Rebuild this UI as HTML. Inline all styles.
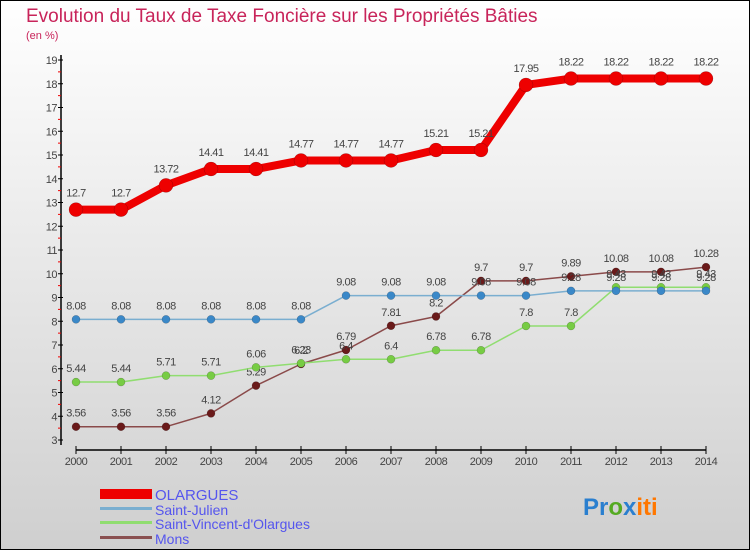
<!DOCTYPE html>
<html><head><meta charset="utf-8"><style>
html,body{margin:0;padding:0}
body{width:750px;height:550px;overflow:hidden;font-family:"Liberation Sans",sans-serif}
svg text{font-family:"Liberation Sans",sans-serif}
</style></head><body>
<svg id="chart" width="750" height="550" xmlns="http://www.w3.org/2000/svg">
<defs><linearGradient id="bg" x1="0" y1="0" x2="0" y2="1"><stop offset="0" stop-color="#ffffff"/><stop offset="1" stop-color="#cfcfcf"/></linearGradient></defs>
<rect x="0.5" y="0.5" width="749" height="549" fill="url(#bg)" stroke="#000"/>
<text x="26" y="22" font-size="19" fill="#c8245a">Evolution du Taux de Taxe Foncière sur les Propriétés Bâties</text>
<text x="26" y="39" font-size="11" fill="#c8245a">(en %)</text>
<g id="axes"></g><g id="series"></g>
<g>
<rect x="100" y="489" width="52" height="10" fill="#e00"/>
<text x="155" y="500" font-size="15" fill="#5555ee">OLARGUES</text>
<rect x="100" y="507" width="52" height="3" fill="#7aaed0"/>
<text x="155" y="515" font-size="14" fill="#5555ee">Saint-Julien</text>
<rect x="100" y="521" width="52" height="3" fill="#90dd70"/>
<text x="155" y="529" font-size="14" fill="#5555ee">Saint-Vincent-d'Olargues</text>
<rect x="100" y="536" width="52" height="3" fill="#8a5050"/>
<text x="155" y="544" font-size="14" fill="#5555ee">Mons</text>
</g>
<text x="583" y="515" font-size="24" font-weight="bold"><tspan fill="#2a7fcf">Pr</tspan><tspan fill="#55aa22">o</tspan><tspan fill="#2a7fcf">x</tspan><tspan fill="#ff7700">iti</tspan></text>
</svg>
<script>
const years=[2000,2001,2002,2003,2004,2005,2006,2007,2008,2009,2010,2011,2012,2013,2014];
const yTicks=[3,4,5,6,7,8,9,10,11,12,13,14,15,16,17,18,19];
const olargues=[12.7,12.7,13.72,14.41,14.41,14.77,14.77,14.77,15.21,15.21,17.95,18.22,18.22,18.22,18.22];
const saintJulien=[8.08,8.08,8.08,8.08,8.08,8.08,9.08,9.08,9.08,9.08,9.08,9.28,9.28,9.28,9.28];
const saintVincent=[5.44,5.44,5.71,5.71,6.06,6.23,6.4,6.4,6.78,6.78,7.8,7.8,9.43,9.43,9.43];
const mons=[3.56,3.56,3.56,4.12,5.29,6.2,6.79,7.81,8.2,9.7,9.7,9.89,10.08,10.08,10.28];
const NS="http://www.w3.org/2000/svg";
const X=i=>76+i*45, Y=v=>440-(v-3)*23.75;
function mk(tag,attrs,parent){const e=document.createElementNS(NS,tag);for(const k in attrs)e.setAttribute(k,attrs[k]);parent.appendChild(e);return e;}
const ax=document.getElementById('axes');
let l=mk('line',{x1:61,y1:55,x2:61,y2:445,stroke:'#000','stroke-width':1.5},ax);


l=mk('line',{x1:76,y1:450,x2:706,y2:450,stroke:'#000','stroke-width':1.5},ax);


yTicks.forEach(t=>{
 mk('line',{x1:58,y1:Y(t),x2:63,y2:Y(t),stroke:'#000'},ax);
 if(t<19)mk('line',{x1:58,y1:Y(t+0.5),x2:61,y2:Y(t+0.5),stroke:'#e00'},ax);
 const tx=mk('text',{x:57,y:Y(t)+4,'font-size':11,fill:'#444','text-anchor':'end','letter-spacing':'-0.5'},ax);
 tx.textContent=t;
 
 
});
years.forEach((yr,i)=>{
 mk('line',{x1:X(i),y1:446,x2:X(i),y2:454,stroke:'#000'},ax);
 const tx=mk('text',{x:X(i),y:465,'font-size':11,fill:'#444','text-anchor':'middle','letter-spacing':'-0.5'},ax);
 tx.textContent=yr;
 
 
});
const sg=document.getElementById('series');
function draw(vals,color,dot,w,r,name){
 const g=mk('g',{},sg);
 
 
 const p=mk('polyline',{points:vals.map((v,i)=>X(i)+','+Y(v)).join(' '),fill:'none',stroke:color,'stroke-width':w,'stroke-linejoin':'round'},g);
 
 
 vals.forEach((v,i)=>{
  const c=mk('circle',{cx:X(i),cy:Y(v),r:r,fill:dot,stroke:'rgba(0,0,0,0.3)','stroke-width':0.5},g);
  
  
  const t=mk('text',{x:X(i),y:Y(v)-(r+6),'font-size':11,fill:'#444','text-anchor':'middle','letter-spacing':'-0.5'},g);
  t.textContent=v;
  
  
 });
}
draw(mons,'#8a4a4a','#6a1a1a',1.5,4,'mons');
draw(saintVincent,'#90dd70','#77cc44',1.5,4,'saint-vincent');
draw(saintJulien,'#7aaed0','#3a88c8',1.5,4,'saint-julien');
draw(olargues,'#e00','#e00',8,7,'olargues');
</script>
</body></html>
